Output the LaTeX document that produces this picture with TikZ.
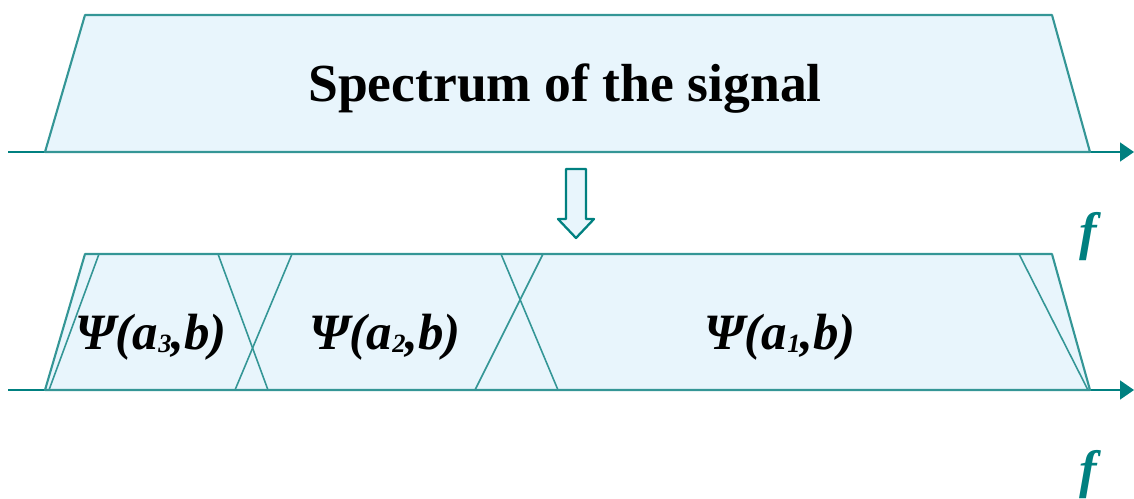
\documentclass[tikz,border=0pt]{standalone}
\usepackage{fontspec}
\setmainfont{Liberation Serif}
\usepackage{tikz}
\usetikzlibrary{arrows.meta}
\definecolor{bandfill}{RGB}{232,245,252}
\definecolor{bandline}{RGB}{52,150,150}
\definecolor{axisteal}{RGB}{0,128,128}
\newcommand\lowidx[1]{\raisebox{-0.06em}{\fontsize{15}{15}\selectfont #1}}

\begin{document}
\begin{tikzpicture}[x=0.02cm, y=-0.02cm,
    band/.style={fill=bandfill, draw=bandline, line width=1.2pt, line join=round},
    edge/.style={draw=bandline, line width=0.9pt},
    axis/.style={draw=axisteal, line width=0.9pt, -{Triangle[length=0.28cm, width=0.38cm]}},
    psilabel/.style={font=\fontsize{29}{30}\selectfont\bfseries\itshape},
    flabel/.style={font=\fontsize{30}{31}\selectfont\bfseries\itshape, text=axisteal}]
  \useasboundingbox (0,0) rectangle (1134,498);
  % Upper band: the signal spectrum
  \coordinate (ax1s) at (8,152);
  \coordinate (ax1e) at (1134,152);
  \draw[axis] (ax1s) -- (ax1e);
  \draw[band] (45,152) -- (85,15) -- (1052,15) -- (1090,152) -- cycle;
  \node[font=\fontsize{30.5}{32}\selectfont\bfseries] (spec) at (565,89) {Spectrum of the signal};
  \node[flabel] (f1) at (1088,237) {f};
  % Hollow arrow down
  \draw[band, draw=axisteal, line width=1.3pt] (566,169) -- (586,169) -- (586,219) -- (594,219)
    -- (576,238) -- (558,219) -- (566,219) -- cycle;
  % Lower band: wavelet windows
  \coordinate (ax2s) at (8,390);
  \coordinate (ax2e) at (1134,390);
  \draw[axis] (ax2s) -- (ax2e);
  \draw[band] (45,390) -- (85,254) -- (1052,254) -- (1090,390) -- cycle;
  \draw[edge] (99,254) -- (49,390);
  \draw[edge] (218,254) -- (268,390);
  \draw[edge] (292,254) -- (235,390);
  \draw[edge] (501,254) -- (558,390);
  \draw[edge] (543,254) -- (475,390);
  \draw[edge] (1019,254) -- (1088,390);
  \node[psilabel] (psi3) at (151,337) {Ψ(a\lowidx{3},b)};
  \node[psilabel] (psi2) at (385,337) {Ψ(a\lowidx{2},b)};
  \node[psilabel] (psi1) at (780,337) {Ψ(a\lowidx{1},b)};
  \node[flabel] (f2) at (1088,475) {f};
\end{tikzpicture}
\end{document}
